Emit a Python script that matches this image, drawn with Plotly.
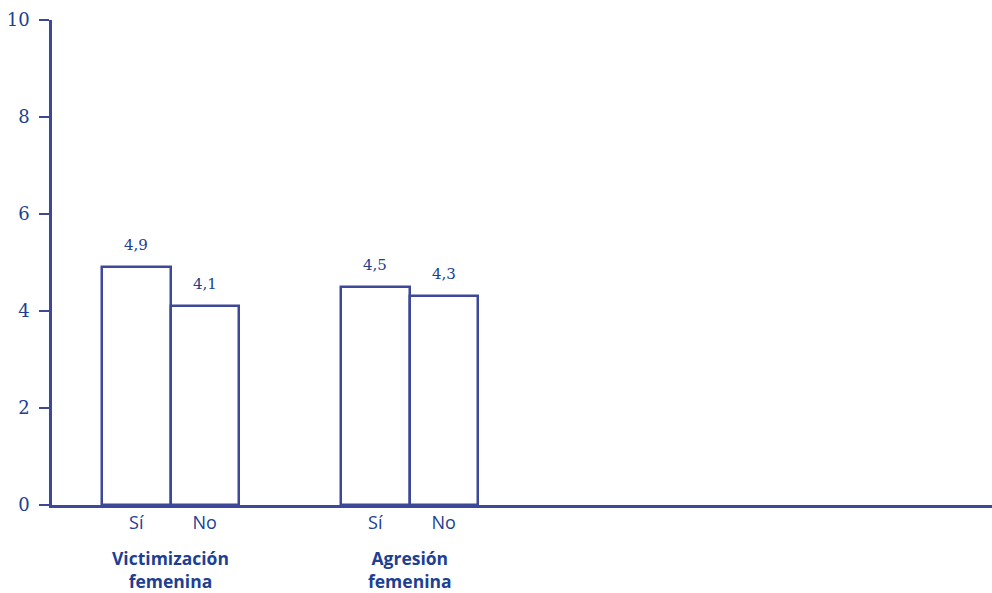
import plotly.graph_objects as go

# ---- data ----
groups = ["Victimización<br>femenina", "Agresión<br>femenina"]
answers = ["Sí", "No"]
values_si = [4.9, 4.5]
values_no = [4.1, 4.3]
value_labels_si = ["4,9", "4,5"]
value_labels_no = ["4,1", "4,3"]
y_ticks = [0, 2, 4, 6, 8, 10]

# ---- layout constants ----
AXIS_COL = "#3d4898"
TEXT_COL = "#203f92"
group_centers = [118.5, 357.5]
bar_w = 68.5
x_si = [c - bar_w / 2 for c in group_centers]
x_no = [c + bar_w / 2 for c in group_centers]

fig = go.Figure()
for xs, vals in ((x_si, values_si), (x_no, values_no)):
    fig.add_trace(go.Bar(
        x=xs, y=vals, width=bar_w,
        marker=dict(color="white", line=dict(color=AXIS_COL, width=2.5)),
        hoverinfo="skip", showlegend=False,
    ))

annotations = []
for xs, vals, labs in ((x_si, values_si, value_labels_si), (x_no, values_no, value_labels_no)):
    for x, v, t in zip(xs, vals, labs):
        annotations.append(dict(
            x=x, y=v, xref="x", yref="y", text=t, showarrow=False,
            yanchor="bottom", yshift=11,
            font=dict(family="DejaVu Serif", size=15, color=TEXT_COL),
        ))
for c, g in zip(group_centers, groups):
    annotations.append(dict(
        x=c, y=0, xref="x", yref="paper", text="<b>" + g + "</b>", showarrow=False,
        yanchor="top", yshift=-39,
        font=dict(family="Open Sans", size=17.5, color=TEXT_COL),
    ))

tickvals = []
ticktext = []
for a, b in zip(x_si, x_no):
    tickvals += [a, b]
    ticktext += answers

fig.update_layout(
    width=992, height=593,
    margin=dict(l=52, r=0, t=20, b=88),
    paper_bgcolor="white", plot_bgcolor="white",
    bargap=0, barmode="overlay",
    annotations=annotations,
    xaxis=dict(
        range=[0, 940], showgrid=False, zeroline=False,
        showline=True, linecolor=AXIS_COL, linewidth=2.5,
        tickmode="array", tickvals=tickvals, ticktext=ticktext,
        ticks="", ticklabelstandoff=0,
        tickfont=dict(family="Open Sans", size=18, color=TEXT_COL),
        fixedrange=True,
    ),
    yaxis=dict(
        range=[0, 10], showgrid=False, zeroline=False,
        showline=True, linecolor=AXIS_COL, linewidth=2.5,
        tickmode="array", tickvals=y_ticks,
        ticks="outside", ticklen=10, tickwidth=2, tickcolor=AXIS_COL,
        ticklabelstandoff=6,
        tickfont=dict(family="DejaVu Serif", size=18, color=TEXT_COL),
        fixedrange=True,
    ),
)

fig.write_html(
    "out.html",
    config={"displayModeBar": False},
    post_script="document.body.style.margin='0';document.body.style.overflow='hidden';",
)
